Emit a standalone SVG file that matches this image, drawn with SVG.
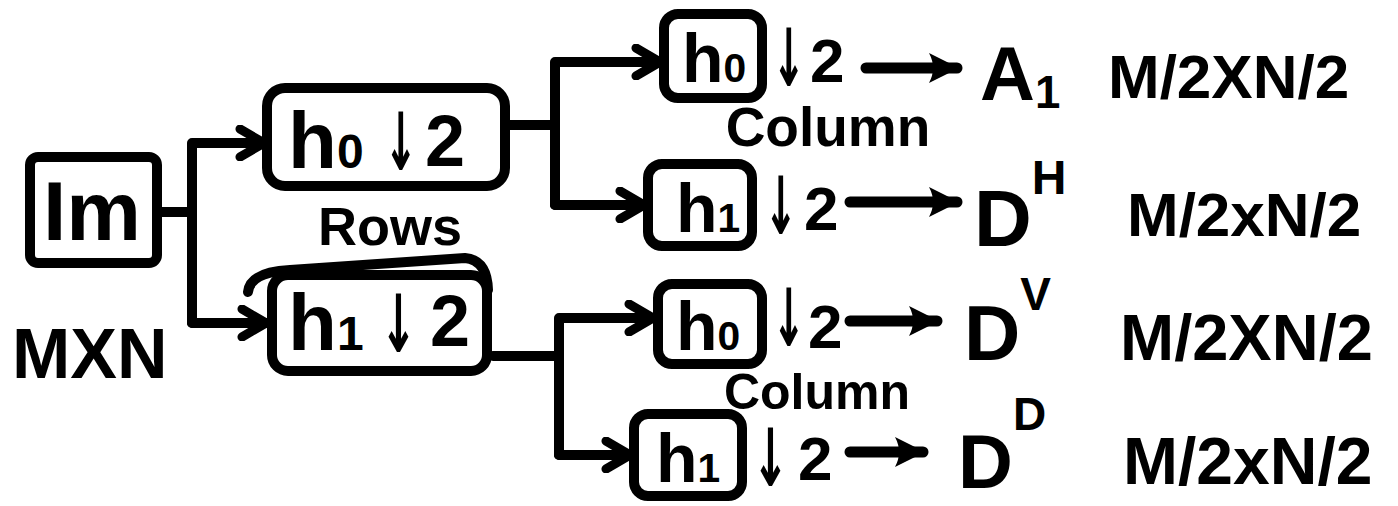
<svg xmlns="http://www.w3.org/2000/svg" width="1398" height="506" viewBox="0 0 1398 506">
<style>
  .box{fill:none;stroke:#000;stroke-width:10;stroke-linejoin:round;stroke-linecap:round}
  .wire{fill:none;stroke:#000;stroke-width:10;stroke-linecap:round;stroke-linejoin:round}
  .out{fill:none;stroke:#000;stroke-width:11;stroke-linecap:round}
  text{font-family:"Liberation Sans","DejaVu Sans",sans-serif;font-weight:bold;fill:#000}
  .sub{font-size:0.6em}
  .hc{font-size:68px}
  .dn{font-size:62px}
  .arw{font-family:"DejaVu Sans",sans-serif;font-size:80px}
</style>
<defs>
  <marker id="chev" viewBox="0 0 36 36" refX="30" refY="18" markerWidth="36" markerHeight="36" markerUnits="userSpaceOnUse" orient="auto">
    <path d="M6,4 L30,18 L6,32" fill="none" stroke="#000" stroke-width="9" stroke-linecap="round" stroke-linejoin="round"/>
  </marker>
  <marker id="tri" viewBox="0 0 36 36" refX="32" refY="18" markerWidth="36" markerHeight="36" markerUnits="userSpaceOnUse" orient="auto">
    <path d="M4,3 Q18,10 34,18 Q18,26 4,33 Q12,18 4,3 Z" fill="#000"/>
  </marker>
</defs>
<rect width="1398" height="506" fill="#fff"/>

<!-- input image -->
<g id="input">
  <rect class="box" x="30" y="157" width="127" height="106" rx="8"/>
  <text x="92" y="240" font-size="84" text-anchor="middle">Im</text>
  <text x="12" y="378" font-size="70">MXN</text>
</g>

<!-- row filters -->
<g id="row-h0">
  <rect class="box" x="267" y="88" width="238" height="98" rx="18"/>
  <text x="288" y="168" font-size="80">h<tspan class="sub">0</tspan></text>
  <text class="arw" transform="translate(384,170) scale(0.5,1)">↓</text>
  <text x="425" y="166" font-size="72">2</text>
</g>
<g id="row-h1">
  <rect class="box" x="272" y="275" width="215" height="96" rx="16"/>
  <path class="box" d="M248,292 Q250,272 290,270 L465,258 Q487,260 488,290"/>
  <text x="288" y="350" font-size="80">h<tspan class="sub">1</tspan></text>
  <text class="arw" transform="translate(380,352) scale(0.55,1)">↓</text>
  <text x="430" y="346" font-size="72">2</text>
</g>
<text id="rows-label" x="390" y="245" font-size="54" text-anchor="middle">Rows</text>

<!-- column filters -->
<g id="col-a-h0">
  <rect class="box" x="664" y="14" width="98" height="84" rx="14"/>
  <text class="hc" x="682" y="82">h<tspan class="sub">0</tspan></text>
  <text class="arw" transform="translate(772,86) scale(0.5,1)">↓</text>
  <text class="dn" x="810" y="82">2</text>
</g>
<g id="col-a-h1">
  <rect class="box" x="648" y="164" width="104" height="82" rx="14"/>
  <text class="hc" x="676" y="232">h<tspan class="sub">1</tspan></text>
  <text class="arw" transform="translate(764,234) scale(0.5,1)">↓</text>
  <text class="dn" x="804" y="230">2</text>
</g>
<text id="col-a-label" x="828" y="146" font-size="55" text-anchor="middle">Column</text>
<g id="col-b-h0">
  <rect class="box" x="658" y="284" width="104" height="80" rx="14"/>
  <text class="hc" x="676" y="350">h<tspan class="sub">0</tspan></text>
  <text class="arw" transform="translate(772,346) scale(0.5,1)">↓</text>
  <text class="dn" x="808" y="348">2</text>
</g>
<g id="col-b-h1">
  <rect class="box" x="634" y="414" width="108" height="82" rx="14"/>
  <text class="hc" x="656" y="482">h<tspan class="sub">1</tspan></text>
  <text class="arw" transform="translate(752,486) scale(0.55,1)">↓</text>
  <text class="dn" x="798" y="480">2</text>
</g>
<text id="col-b-label" x="817" y="409" font-size="50" text-anchor="middle">Column</text>

<!-- outputs -->
<g id="out-a1">
  <text x="980" y="100" font-size="76">A<tspan class="sub" dy="8">1</tspan></text>
  <text x="1108" y="98" font-size="62">M/2XN/2</text>
</g>
<g id="out-dh">
  <text x="974" y="246" font-size="80">D<tspan font-size="48" dy="-52">H</tspan></text>
  <text x="1127" y="236" font-size="62">M/2xN/2</text>
</g>
<g id="out-dv">
  <text x="964" y="360" font-size="78">D<tspan font-size="46" dy="-50">V</tspan></text>
  <text x="1120" y="360" font-size="65">M/2XN/2</text>
</g>
<g id="out-dd">
  <text x="958" y="488" font-size="76">D<tspan font-size="46" dy="-58">D</tspan></text>
  <text x="1123" y="484" font-size="66">M/2xN/2</text>
</g>

<!-- connectors -->
<g id="connectors">
  <path class="wire" d="M157,212 H192"/>
  <path class="wire" d="M192,323 V143 H264" marker-end="url(#chev)"/>
  <path class="wire" d="M192,300 V323 H266" marker-end="url(#chev)"/>
  <path class="wire" d="M505,125 H555"/>
  <path class="wire" d="M555,205 V62 H660" marker-end="url(#chev)"/>
  <path class="wire" d="M555,180 V205 H644" marker-end="url(#chev)"/>
  <path class="wire" d="M493,356 H559"/>
  <path class="wire" d="M559,455 V318 H653" marker-end="url(#chev)"/>
  <path class="wire" d="M559,430 V455 H630" marker-end="url(#chev)"/>
  <path class="out" d="M866,68 H957" marker-end="url(#tri)"/>
  <path class="out" d="M850,202 H957" marker-end="url(#tri)"/>
  <path class="out" d="M850,321 H937" marker-end="url(#tri)"/>
  <path class="out" d="M850,452 H923" marker-end="url(#tri)"/>
</g>
</svg>
